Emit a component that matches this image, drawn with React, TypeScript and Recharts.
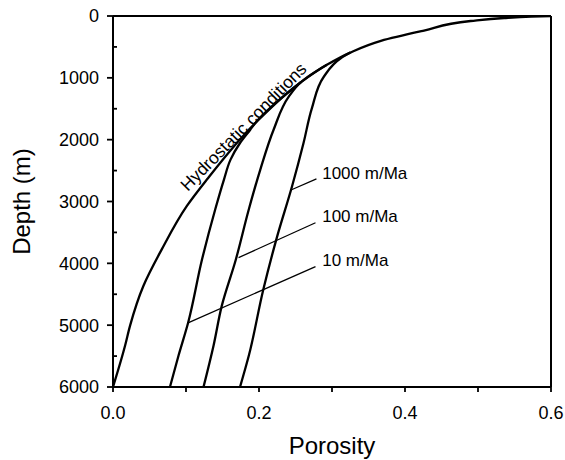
import { LineChart, Line, XAxis, YAxis, ReferenceLine, ReferenceDot } from "recharts";

// [porosity, depth (m)], shallow to deep
const hydrostatic = [
  [0.6, 0], [0.573, 10], [0.536, 32], [0.49, 81], [0.426, 237], [0.367, 403],
  [0.325, 592], [0.293, 790], [0.257, 1075], [0.195, 1731], [0.1286, 2645],
  [0.101, 3075], [0.0668, 3774], [0.0416, 4366], [0.0233, 5011], [0.0165, 5333],
  [0.0, 6000],
];
// the compaction curves leave the hydrostatic one where they start
const rate10 = [
  [0.257, 1075], [0.195, 1731], [0.188, 1839], [0.174, 2054], [0.161, 2323],
  [0.152, 2645], [0.14, 3129], [0.122, 3935], [0.103, 4957], [0.0897, 5495],
  [0.078, 6000],
];
const rate100 = [
  [0.293, 790], [0.257, 1075], [0.241, 1301], [0.22, 1839], [0.2018, 2484],
  [0.186, 3129], [0.168, 3950], [0.149, 4688], [0.1377, 5333], [0.124, 6000],
];
const rate1000 = [
  [0.325, 592], [0.312, 683], [0.289, 978], [0.2725, 1490], [0.261, 2054],
  [0.2453, 2753], [0.225, 3560], [0.206, 4419], [0.186, 5495], [0.174, 6000],
];

// leader lines: [from, to] and label anchor
const leaders = [
  { name: "1000 m/Ma", from: [0.243, 2818], to: [0.2787, 2634], label: [0.2866, 2537] },
  { name: "100 m/Ma", from: [0.172, 3908], to: [0.2774, 3344], label: [0.2866, 3237] },
  { name: "10 m/Ma", from: [0.102, 4968], to: [0.2774, 4053], label: [0.2866, 3952] },
];

const porosityTicks = [0, 0.1, 0.2, 0.3, 0.4, 0.5, 0.6];
const depthTicks = [0, 500, 1000, 1500, 2000, 2500, 3000, 3500, 4000, 4500, 5000, 5500, 6000];

const toPoints = (rows: number[][]) => rows.map(([por, depth]) => ({ por, depth }));

const series = [
  { key: "hydro", rows: hydrostatic },
  { key: "r10", rows: rate10 },
  { key: "r100", rows: rate100 },
  { key: "r1000", rows: rate1000 },
];

// major ticks outside with a label, minor ticks inside
const DepthTick = (props: any) => {
  const { x, y, payload } = props;
  const major = payload.value % 1000 === 0;
  const axisX = x + 14;
  return (
    <g>
      {major ? (
        <line x1={axisX - 6} x2={axisX} y1={y} y2={y} stroke="#000" strokeWidth={1.8} />
      ) : (
        <line x1={axisX} x2={axisX + 4} y1={y} y2={y} stroke="#000" strokeWidth={1.8} />
      )}
      {major && (
        <text x={x} y={y} dy="0.355em" textAnchor="end" fontSize={18} fill="#000">
          {payload.value}
        </text>
      )}
    </g>
  );
};

export default function App() {
  return (
    <div
      style={{
        position: "absolute",
        left: 0,
        top: 0,
        fontFamily: '"Liberation Sans", Arial, Helvetica, sans-serif',
      }}
    >
      <LineChart width={565} height={460} margin={{ top: 16, right: 14, bottom: 0, left: 0 }}>
        <XAxis
          type="number"
          dataKey="por"
          domain={[0, 0.6]}
          ticks={porosityTicks}
          allowDataOverflow
          height={73}
          tickSize={5}
          tickMargin={14}
          tickFormatter={(v: number) => (Math.round(v * 10) % 2 === 0 ? v.toFixed(1) : "")}
          tick={{ fontSize: 18, fill: "#000" }}
          axisLine={{ stroke: "#000", strokeWidth: 2 }}
          tickLine={{ stroke: "#000", strokeWidth: 1.8 }}
          label={{ value: "Porosity", position: "insideBottom", offset: 6, fontSize: 24, fill: "#000" }}
        />
        <YAxis
          type="number"
          dataKey="depth"
          domain={[0, 6000]}
          reversed
          ticks={depthTicks}
          allowDataOverflow
          width={113}
          tickSize={6}
          tickMargin={8}
          tickLine={false}
          tick={<DepthTick />}
          axisLine={{ stroke: "#000", strokeWidth: 2 }}
          label={{ value: "Depth (m)", angle: -90, position: "center", dx: -35.5, fontSize: 24, fill: "#000" }}
        />
        <ReferenceLine y={0} stroke="#000" strokeWidth={2} />
        <ReferenceLine x={0.6} stroke="#000" strokeWidth={2} />
        {series.map((s) => (
          <Line
            key={s.key}
            data={toPoints(s.rows)}
            dataKey="depth"
            type="monotoneY"
            stroke="#000"
            strokeWidth={2.3}
            dot={false}
            activeDot={false}
            isAnimationActive={false}
          />
        ))}
        {leaders.map((l) => (
          <ReferenceLine
            key={l.name}
            segment={[
              { x: l.from[0], y: l.from[1] },
              { x: l.to[0], y: l.to[1] },
            ]}
            stroke="#000"
            strokeWidth={1.3}
          />
        ))}
        {leaders.map((l) => (
          <ReferenceDot
            key={"lab" + l.name}
            x={l.label[0]}
            y={l.label[1]}
            r={0}
            fill="none"
            stroke="none"
            label={{ value: l.name, position: "right", offset: 0, fontSize: 17, fill: "#000" }}
          />
        ))}
        <ReferenceDot
          x={0.1785}
          y={1790}
          r={0}
          fill="none"
          stroke="none"
          label={{ value: "Hydrostatic conditions", position: "center", angle: -45.5, fontSize: 17.5, fill: "#000" }}
        />
      </LineChart>
    </div>
  );
}
